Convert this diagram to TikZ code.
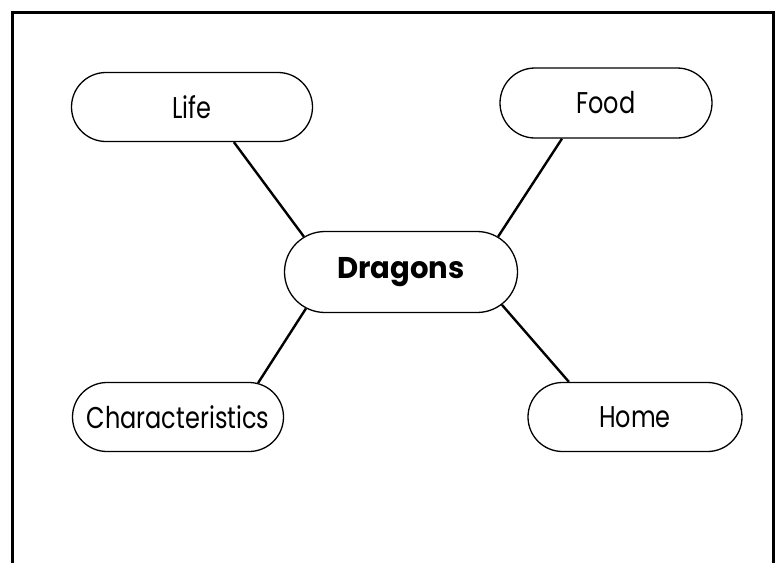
\documentclass[tikz,border=0pt]{standalone}
\usepackage{fontspec}
\setmainfont[FakeStretch=0.8, BoldFeatures={FakeStretch=0.97}]{Poppins}
\usepackage{tikz}
\usetikzlibrary{shapes.misc, calc}

\begin{document}
\begin{tikzpicture}[x=1pt, y=-1pt,
    every node/.style={font=\fontsize{30}{32}\selectfont},
    topic/.style={draw, rounded rectangle, line width=1.3pt, minimum height=69pt, inner sep=0pt},
    link/.style={line width=2.4pt}]
  \useasboundingbox (0,0) rectangle (778,563);
  \draw[line width=3pt] (12,563) -- (12,12) -- (773,12) -- (773,563);
  \node[topic, minimum width=241pt] (life) at (192,107) {Life};
  \node[topic, minimum width=212pt, minimum height=70pt] (food) at (606,103) {Food};
  \node[topic, minimum width=233pt, minimum height=81pt, font=\fontsize{30}{32}\selectfont\bfseries] (dragons) at (401,272) {Dragons};
  \node[topic, minimum width=211pt] (chars) at (178,417) {Characteristics};
  \node[topic, minimum width=214pt] (home) at (635,417) {Home};
  \draw[link] (life.-40) -- (dragons.160);
  \draw[link] (food.-141) -- (dragons.20);
  \draw[link] (chars.23) -- (dragons.-159);
  \draw[link] (home.152) -- (dragons.-18);
\end{tikzpicture}
\end{document}
